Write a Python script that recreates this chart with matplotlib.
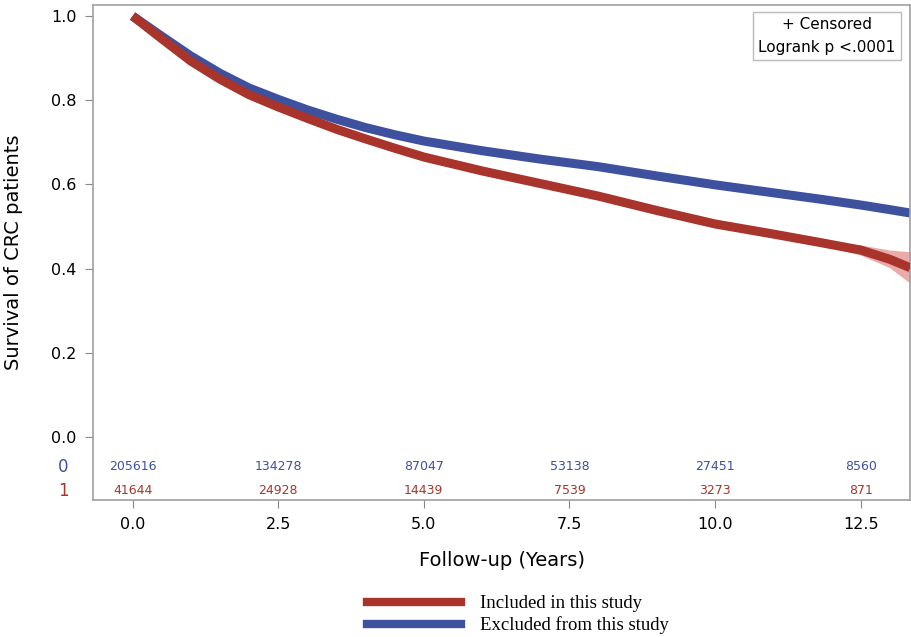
import matplotlib
matplotlib.use("Agg")
import matplotlib.pyplot as plt
from matplotlib.lines import Line2D

# ---- data ----
t = [0, 0.5, 1, 1.5, 2, 2.5, 3, 3.5, 4, 4.5, 5, 6, 7, 7.5, 8, 9, 10, 11, 11.8, 12.5, 13, 13.35]
surv_excluded = [1.0, 0.952, 0.905, 0.864, 0.829, 0.802, 0.777, 0.755, 0.735, 0.718, 0.703,
                 0.680, 0.660, 0.651, 0.642, 0.620, 0.599, 0.580, 0.565, 0.551, 0.540, 0.532]
surv_included = [1.0, 0.946, 0.893, 0.850, 0.813, 0.784, 0.757, 0.731, 0.708, 0.686, 0.665,
                 0.632, 0.602, 0.587, 0.572, 0.538, 0.506, 0.482, 0.462, 0.444, 0.422, 0.402]
ci_included_lo = [1.0, 0.944, 0.891, 0.848, 0.811, 0.782, 0.755, 0.729, 0.706, 0.684, 0.663,
                  0.630, 0.600, 0.585, 0.570, 0.535, 0.503, 0.478, 0.456, 0.432, 0.402, 0.365]
ci_included_hi = [1.0, 0.948, 0.895, 0.852, 0.815, 0.786, 0.759, 0.733, 0.710, 0.688, 0.667,
                  0.634, 0.604, 0.589, 0.574, 0.541, 0.509, 0.486, 0.468, 0.456, 0.444, 0.440]

risk_times = [0.0, 2.5, 5.0, 7.5, 10.0, 12.5]
risk_excluded = [205616, 134278, 87047, 53138, 27451, 8560]
risk_included = [41644, 24928, 14439, 7539, 3273, 871]
group_labels = ["0", "1"]
legend_labels = ["Included in this study", "Excluded from this study"]
xticks = [0.0, 2.5, 5.0, 7.5, 10.0, 12.5]
yticks = [0.0, 0.2, 0.4, 0.6, 0.8, 1.0]

RED = "#A9342B"
BLUE = "#3D519E"
RED_CI = "#EBAAAA"

fig = plt.figure(figsize=(9.12, 6.37), dpi=100)
ax = fig.add_axes([0.102, 0.215, 0.896, 0.777])

ax.fill_between(t, ci_included_lo, ci_included_hi, color=RED_CI, lw=0, zorder=1)
ax.plot(t, surv_excluded, color=BLUE, lw=6.5, solid_capstyle="butt", solid_joinstyle="round", zorder=2)
ax.plot(t, surv_included, color=RED, lw=6.5, solid_capstyle="butt", solid_joinstyle="round", zorder=3)

ax.set_xlim(-0.68, 13.35)
ax.set_ylim(-0.15, 1.026)
ax.set_xticks(xticks)
ax.set_xticklabels([f"{v:.1f}" for v in xticks])
ax.set_yticks(yticks)
ax.set_yticklabels([f"{v:.1f}" for v in yticks])
ax.tick_params(direction="out", length=6, color="#888888", labelsize=11.5, pad=6)
for s in ax.spines.values():
    s.set_color("#A0A0A0")
    s.set_linewidth(1.2)

ax.set_xlabel("Follow-up (Years)", fontsize=14, labelpad=14)
ax.set_ylabel("Survival of CRC patients", fontsize=14, labelpad=20)

# risk table
trans = ax.get_yaxis_transform()
for x, n in zip(risk_times, risk_excluded):
    ax.text(x, -0.071, str(n), color=BLUE, fontsize=9, ha="center", va="center")
for x, n in zip(risk_times, risk_included):
    ax.text(x, -0.128, str(n), color=RED, fontsize=9, ha="center", va="center")
ax.text(-0.03, -0.071, group_labels[0], color=BLUE, fontsize=12, ha="right", va="center",
        transform=trans)
ax.text(-0.03, -0.128, group_labels[1], color=RED, fontsize=12, ha="right", va="center",
        transform=trans)

# inset box
ax.text(0.982, 0.975, "+ Censored\nLogrank p <.0001", transform=ax.transAxes,
        ha="right", va="top", fontsize=11, linespacing=1.6, multialignment="center",
        bbox=dict(boxstyle="square,pad=0.35", fc="white", ec="#BBBBBB", lw=1))

# bottom legend
handles = [Line2D([0], [0], color=RED, lw=6), Line2D([0], [0], color=BLUE, lw=6)]
fig.legend(handles, legend_labels, loc="center", bbox_to_anchor=(0.568, 0.035),
           frameon=False, ncol=1, handlelength=5.0, handletextpad=1.0,
           labelspacing=0.2, prop={"family": "Liberation Serif", "size": 13.5})

fig.savefig("out.png", dpi=100)
